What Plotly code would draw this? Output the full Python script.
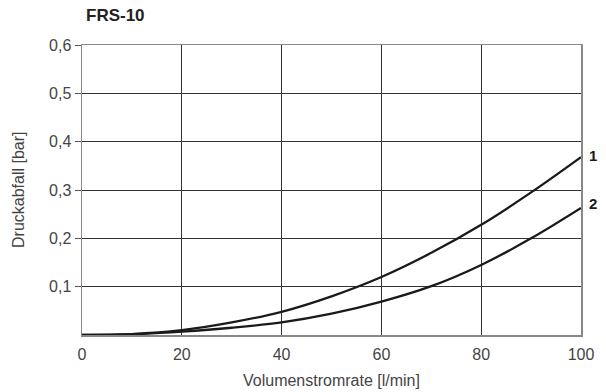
import plotly.graph_objects as go

flow = [0, 10, 20, 30, 40, 50, 60, 70, 80, 90, 100]
curve1 = [0, 0.002, 0.010, 0.026, 0.048, 0.080, 0.120, 0.170, 0.228, 0.295, 0.368]
curve2 = [0, 0.0015, 0.007, 0.015, 0.026, 0.044, 0.069, 0.101, 0.145, 0.200, 0.263]
labels = ["1", "2"]
title = "FRS-10"
x_title = "Volumenstromrate [l/min]"
y_title = "Druckabfall [bar]"
x_ticks = [0, 20, 40, 60, 80, 100]
y_ticks = [0.1, 0.2, 0.3, 0.4, 0.5, 0.6]

FONT = "Liberation Sans"

fig = go.Figure()
for ys in (curve1, curve2):
    fig.add_trace(go.Scatter(x=flow, y=ys, mode="lines",
                             line=dict(color="#1a1a1a", width=2.3, shape="spline"),
                             showlegend=False, hoverinfo="skip", cliponaxis=False))

for lab, ys, dy in zip(labels, (curve1, curve2), (2, 4)):
    fig.add_annotation(x=100, y=ys[-1], text="<b>%s</b>" % lab, showarrow=False,
                       xanchor="left", yanchor="middle", xshift=6, yshift=dy,
                       font=dict(family=FONT, size=15, color="#1a1a1a"))

fig.add_annotation(x=0, y=1, xref="paper", yref="paper", text="<b>%s</b>" % title,
                   showarrow=False, xanchor="left", yanchor="middle", xshift=2, yshift=30,
                   font=dict(family=FONT, size=17, color="#222"))

fig.add_annotation(x=0, y=0.5, xref="paper", yref="paper", text=y_title,
                   showarrow=False, textangle=-90, xanchor="center", yanchor="middle",
                   xshift=-64, font=dict(family=FONT, size=16, color="#444"))
fig.add_annotation(x=0.5, y=0, xref="paper", yref="paper", text=x_title,
                   showarrow=False, xanchor="center", yanchor="middle",
                   yshift=-45, font=dict(family=FONT, size=16, color="#444"))

fig.update_layout(
    width=606, height=392,
    margin=dict(l=82, r=18, t=45, b=57, pad=0),
    paper_bgcolor="white", plot_bgcolor="white",
    separators=",.",
    font=dict(family=FONT, size=16, color="#444"),
    hovermode=False,
)
fig.update_xaxes(range=[0, 100], tickvals=x_ticks, showgrid=True, gridcolor="#333",
                 gridwidth=1, zeroline=False, showline=True, linecolor="#888", linewidth=1.5,
                 mirror=True, ticks="", ticklabelstandoff=4,
                 tickfont=dict(size=16, color="#444"))
fig.update_yaxes(range=[0, 0.6], tickvals=y_ticks, tickformat=".1f", showgrid=True,
                 gridcolor="#333", gridwidth=1, zeroline=False, showline=True,
                 linecolor="#888", linewidth=1.5, mirror=True, ticks="outside",
                 ticklen=6, tickcolor="#555",
                 tickfont=dict(size=16, color="#444"))

fig.write_html("out.html", config={"displayModeBar": False, "staticPlot": True},
               post_script="document.body.style.margin='0';document.body.style.overflow='hidden';")
